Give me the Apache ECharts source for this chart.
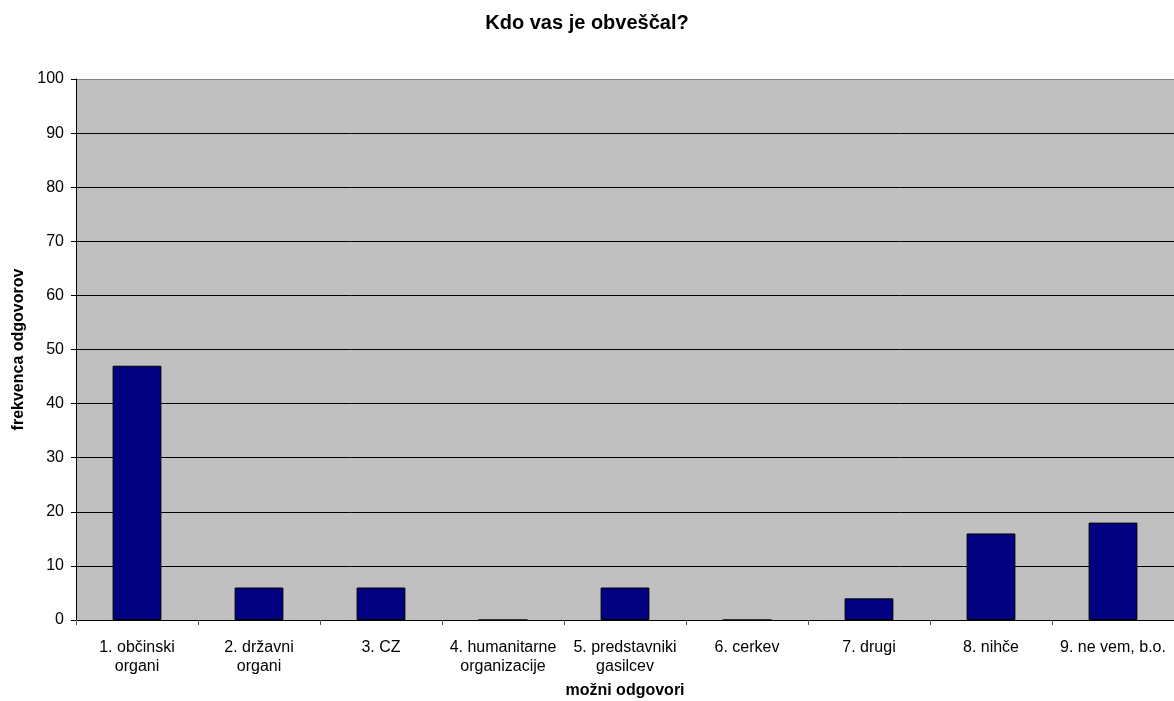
<!DOCTYPE html>
<html>
<head>
<meta charset="utf-8">
<script src="https://cdn.jsdelivr.net/npm/echarts@6/dist/echarts.min.js"></script>
<style>
  html, body { margin: 0; padding: 0; background: #fff; }
  #chart { width: 1174px; height: 701px; }
</style>
</head>
<body>
<div id="chart"></div>
<script>
const categories = [
    "1. občinski\norgani",
    "2. državni\norgani",
    "3. CZ",
    "4. humanitarne\norganizacije",
    "5. predstavniki\ngasilcev",
    "6. cerkev",
    "7. drugi",
    "8. nihče",
    "9. ne vem, b.o."
];
const frequencies = [47, 6, 6, 0, 6, 0, 4, 16, 18];
const yTicks = [0, 10, 20, 30, 40, 50, 60, 70, 80, 90, 100];

document.addEventListener("DOMContentLoaded", function () {
    let chart = echarts.init(document.getElementById("chart"));

    // gridlines black, top one grey like the plot border
    let gridColors = yTicks.map((t, i) => i === yTicks.length - 1 ? "#808080" : "#000");

    let option = {
        animation: false,
        textStyle: { fontFamily: "Liberation Sans, Arial, sans-serif" },
        title: {
            text: "Kdo vas je obveščal?",
            left: "center",
            top: 8,
            textStyle: { fontSize: 20, fontWeight: "bold", color: "#000" }
        },
        grid: {
            left: 76,
            right: 0,
            top: 79,
            bottom: 81,
            outerBoundsMode: "none",
            show: true,
            backgroundColor: "#c0c0c0",
            borderWidth: 0
        },
        xAxis: {
            type: "category",
            data: categories,
            name: "možni odgovori",
            nameLocation: "middle",
            nameGap: 63,
            nameTextStyle: { fontSize: 16, fontWeight: "bold", color: "#000" },
            axisLine: { lineStyle: { color: "#000", width: 1 } },
            axisTick: { show: true, length: 5, lineStyle: { color: "#555" } },
            axisLabel: { interval: 0, color: "#000", fontSize: 16, lineHeight: 19, margin: 18 }
        },
        yAxis: {
            type: "value",
            min: 0,
            max: 100,
            interval: 10,
            name: "frekvenca odgovorov",
            nameLocation: "middle",
            nameGap: 46,
            nameTextStyle: { fontSize: 16, fontWeight: "bold", color: "#000" },
            axisLine: { show: true, lineStyle: { color: "#000", width: 1 } },
            axisTick: { show: true, length: 5, lineStyle: { color: "#000" } },
            axisLabel: { color: "#000", fontSize: 16, margin: 12 },
            splitLine: { show: true, lineStyle: { color: gridColors, width: 1 } }
        },
        series: [
            {
                type: "bar",
                data: frequencies,
                barWidth: "40%",
                itemStyle: { color: "#000080", borderColor: "#000", borderWidth: 1 }
            }
        ]
    };
    chart.setOption(option);
});
</script>
</body>
</html>
